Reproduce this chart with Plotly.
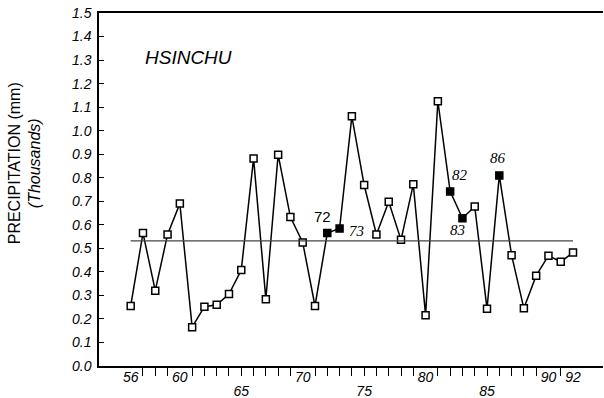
import plotly.graph_objects as go

years = list(range(56, 93))
precip = [0.255, 0.565, 0.32, 0.559, 0.69, 0.165, 0.252, 0.26, 0.306, 0.408,
          0.882, 0.284, 0.898, 0.633, 0.525, 0.255, 0.565, 0.584, 1.061, 0.769,
          0.559, 0.698, 0.536, 0.772, 0.216, 1.125, 0.742, 0.628, 0.678, 0.243,
          0.81, 0.471, 0.245, 0.384, 0.469, 0.443, 0.482]
filled_years = [72, 73, 82, 83, 86]
mean_value = 0.532

row1_ticks = [56, 60, 70, 80, 90, 92]
row2_ticks = [65, 75, 85]
y_ticks = [round(i * 0.1, 1) for i in range(16)]

label_points = {
    "72": (71.6, 0.634, "Liberation Sans", "normal"),
    "73": (74.4, 0.574, "Liberation Serif", "italic"),
    "82": (82.8, 0.81, "Liberation Serif", "italic"),
    "83": (82.6, 0.58, "Liberation Serif", "italic"),
    "86": (85.9, 0.885, "Liberation Serif", "italic"),
}

fig = go.Figure()

fig.add_trace(go.Scatter(
    x=[years[0], years[-1]], y=[mean_value, mean_value], mode="lines",
    line=dict(color="#444444", width=1.2), xaxis="x2", showlegend=False,
    hoverinfo="skip"))

fig.add_trace(go.Scatter(
    x=years, y=precip, mode="lines+markers",
    line=dict(color="black", width=1.5),
    marker=dict(symbol="square", size=7,
                color=["black" if y in filled_years else "white" for y in years],
                line=dict(color="black", width=1.5)),
    showlegend=False))

for txt, (ax, ay, fam, sty) in label_points.items():
    fig.add_annotation(x=ax, y=ay, text=txt, showarrow=False,
                       font=dict(family=fam, size=15, color="black", style=sty))

fig.add_annotation(x=0.087, y=0.874, xref="paper", yref="paper", xanchor="left",
                   yanchor="middle", text="HSINCHU", showarrow=False,
                   font=dict(family="Liberation Sans", size=19, color="black",
                             style="italic"))

fig.add_annotation(x=-0.147, y=0.574, xref="paper", yref="paper",
                   xanchor="center", yanchor="middle",
                   text="PRECIPITATION (mm)<br><i>(Thousands)</i>", textangle=-90,
                   showarrow=False, align="center",
                   font=dict(family="Liberation Sans", size=16, color="black"))

xr = [53.42, 94.44]
other_ticks = [y for y in years if y not in row1_ticks]

fig.update_layout(
    template="none",
    width=604, height=398,
    margin=dict(l=99, r=1, t=13, b=32, autoexpand=False),
    paper_bgcolor="white", plot_bgcolor="white",
    xaxis=dict(range=xr, tickmode="array", tickvals=row1_ticks,
               ticktext=[str(v) for v in row1_ticks], ticks="",
               ticklabelstandoff=-3, automargin=False,
               showline=True, linecolor="black", linewidth=1.5, mirror=True,
               showgrid=False, zeroline=False,
               tickfont=dict(family="Liberation Sans", size=14, color="black",
                             style="italic")),
    xaxis2=dict(range=xr, overlaying="x", side="bottom", anchor="y",
                tickmode="array", tickvals=other_ticks,
                ticktext=[str(v) if v in row2_ticks else "" for v in other_ticks],
                ticks="outside", ticklen=9, tickcolor="black", tickwidth=1.3,
                ticklabelstandoff=3, automargin=False,
                showline=False, showgrid=False, zeroline=False,
                tickfont=dict(family="Liberation Sans", size=14, color="black",
                              style="italic")),
    yaxis=dict(range=[0, 1.5], tickmode="array", tickvals=y_ticks,
               ticktext=[f"{v:.1f}" for v in y_ticks], ticks="inside", ticklen=5,
               tickcolor="black", showline=True, linecolor="black", linewidth=1.5,
               showgrid=False, zeroline=False, automargin=False,
               ticklabelstandoff=3,
               tickfont=dict(family="Liberation Sans", size=14, color="black",
                             style="italic")),
)

fig.write_html("out.html", config={"displayModeBar": False},
               post_script="document.body.style.margin='0';document.body.style.padding='0';")
